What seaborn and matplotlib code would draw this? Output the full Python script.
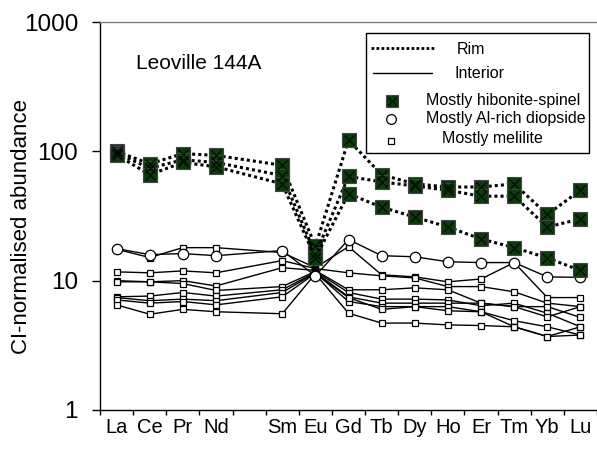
import numpy as np
import pandas as pd
import seaborn as sns
import matplotlib.pyplot as plt
from matplotlib.lines import Line2D
from matplotlib.patches import Rectangle
from matplotlib.ticker import FixedLocator, NullFormatter, FixedFormatter, NullLocator

sns.set_style('ticks')
plt.rcParams['font.family'] = ['Liberation Sans', 'DejaVu Sans']
plt.rcParams['text.color'] = 'black'
plt.rcParams['axes.labelcolor'] = 'black'
plt.rcParams['xtick.color'] = 'black'
plt.rcParams['ytick.color'] = 'black'

# axis slots (Pm has no data, left blank)
axis_labels = ['La', 'Ce', 'Pr', 'Nd', '', 'Sm', 'Eu', 'Gd', 'Tb', 'Dy', 'Ho', 'Er', 'Tm', 'Yb', 'Lu']
elements = ['La', 'Ce', 'Pr', 'Nd', 'Sm', 'Eu', 'Gd', 'Tb', 'Dy', 'Ho', 'Er', 'Tm', 'Yb', 'Lu']

# rim, mostly hibonite-spinel
rim_a = [100, 80, 96, 93, 78, 18.4, 122, 66, 56, 53, 53, 56, 32.5, 50]
rim_b = [97, 74, 86, 82, 65, 16, 64, 58, 54, 50, 45, 45, 26, 30]
rim_c = [94, 66, 82, 76, 56, 15, 47, 37, 31, 26, 21, 18, 15, 12]

# interior, mostly Al-rich diopside
diop = [17.7, 15.9, 16.2, 15.6, 17.1, 10.9, 20.8, 15.6, 15.3, 14.0, 13.8, 13.8, 10.7, 10.6]

# interior, mostly melilite
mel_1 = [17.5, 15.1, 18.0, 18.0, 16.5, 12.6, 18.3, 11.1, 10.7, 9.8, 10.3, 13.8, 7.4, 7.4]
mel_2 = [11.7, 11.5, 11.9, 11.5, 14.3, 12.4, 11.5, 10.9, 10.5, 9.0, 9.0, 8.2, 6.7, 6.3]
mel_3 = [10.0, 9.8, 10.0, 9.1, 12.6, 12.0, 8.5, 8.5, 8.8, 8.5, 6.7, 6.3, 6.3, 5.2]
mel_4 = [9.8, 9.8, 9.5, 8.4, 9.0, 11.8, 8.1, 7.2, 7.2, 7.1, 6.4, 6.7, 5.6, 4.4]
mel_5 = [7.5, 7.6, 8.1, 7.6, 8.5, 11.6, 7.5, 6.7, 6.7, 6.7, 6.7, 6.3, 5.25, 6.3]
mel_6 = [7.4, 7.0, 7.2, 7.0, 8.1, 11.5, 6.9, 6.3, 6.3, 6.3, 5.75, 4.9, 4.4, 3.8]
mel_7 = [7.1, 6.7, 6.9, 6.5, 7.5, 11.4, 7.4, 6.0, 6.3, 5.85, 5.75, 4.4, 3.7, 4.4]
mel_8 = [6.5, 5.5, 6.0, 5.75, 5.55, 11.3, 5.6, 4.7, 4.7, 4.55, 4.5, 4.4, 3.7, 3.8]

rims = [rim_a, rim_b, rim_c]
melilites = [mel_1, mel_2, mel_3, mel_4, mel_5, mel_6, mel_7, mel_8]

pos = [axis_labels.index(e) for e in elements]


def frame(values):
    return pd.DataFrame({'pos': pos, 'value': values})


green = '#0b3a0b'

fig = plt.figure(figsize=(5.97, 4.49), dpi=100)
ax = fig.add_axes([100 / 597, 39 / 449, 497 / 597, 388 / 449])
ax.set_yscale('log')

# interior lines
for s in melilites:
    sns.lineplot(data=frame(s), x='pos', y='value', ax=ax, color='black', lw=1,
                 marker='s', markersize=4.8, mfc='white', mec='black', mew=0.9,
                 estimator=None, zorder=2)
sns.lineplot(data=frame(diop), x='pos', y='value', ax=ax, color='black', lw=1,
             marker='o', markersize=7.5, mfc='white', mec='black', mew=0.9,
             estimator=None, zorder=3)

# rim lines
for s in rims:
    sns.lineplot(data=frame(s), x='pos', y='value', ax=ax, color='black', lw=2.2,
                 linestyle=(0, (1, 1)), marker='s', markersize=9.5, mfc=green,
                 mec='#444444', mew=0.8, estimator=None, zorder=4)
    ax.plot(pos, s, ls='none', marker='x', markersize=7, mec='black', mew=0.7, zorder=5)

ax.set_xlim(-0.5, 14.5)
ax.set_ylim(1, 1000)

ax.yaxis.set_major_locator(FixedLocator([1, 10, 100, 1000]))
ax.yaxis.set_major_formatter(FixedFormatter(['1', '10', '100', '1000']))
ax.yaxis.set_minor_locator(NullLocator())
ax.tick_params(axis='y', which='major', labelsize=17.5, length=5.8, width=1, pad=10,
               direction='out', colors='black')

ax.xaxis.set_major_locator(FixedLocator(np.arange(-0.5, 15, 1)))
ax.xaxis.set_major_formatter(NullFormatter())
ax.xaxis.set_minor_locator(FixedLocator(np.arange(0, 15, 1)))
ax.xaxis.set_minor_formatter(FixedFormatter(axis_labels))
ax.tick_params(axis='x', which='major', length=3.6, width=1, direction='out', colors='black')
ax.tick_params(axis='x', which='minor', length=0, labelsize=14.5, pad=6, colors='black')

ax.set_xlabel('')
ax.set_ylabel('CI-normalised abundance', fontsize=16, color='black')
ax.yaxis.set_label_coords(-0.137, 0.474)

for side in ['left', 'bottom']:
    ax.spines[side].set_color('black')
    ax.spines[side].set_linewidth(1)
ax.spines['top'].set_color('#808080')
ax.spines['top'].set_linewidth(1)
ax.spines['right'].set_visible(False)

ax.text(0.072, 0.892, 'Leoville 144A', transform=ax.transAxes, fontsize=15,
        ha='left', va='center', color='black')


# hand-built legend box, placed like the original
def fx(px):
    return (px - 100) / 497


def fy(py):
    return (410 - py) / 388


box = Rectangle((fx(366), fy(153)), fx(589) - fx(366), fy(33) - fy(153),
                transform=ax.transAxes, facecolor='white', edgecolor='black',
                lw=1, zorder=10, clip_on=False)
ax.add_patch(box)
ax.add_line(Line2D([fx(371), fx(435)], [fy(48), fy(48)], transform=ax.transAxes,
                   color='black', lw=2, linestyle=(0, (1, 0.8)), zorder=11))
ax.add_line(Line2D([fx(373), fx(432)], [fy(73), fy(73)], transform=ax.transAxes,
                   color='black', lw=1, zorder=11))
ax.plot([fx(392)], [fy(101)], transform=ax.transAxes, marker='s', markersize=8,
        mfc=green, mec='#444444', mew=0.8, ls='none', zorder=11, clip_on=False)
ax.plot([fx(392)], [fy(101)], transform=ax.transAxes, marker='x', markersize=6,
        mec='black', mew=0.6, ls='none', zorder=12, clip_on=False)
ax.plot([fx(391)], [fy(119)], transform=ax.transAxes, marker='o', markersize=7,
        mfc='white', mec='black', mew=0.9, ls='none', zorder=11, clip_on=False)
ax.plot([fx(391)], [fy(141)], transform=ax.transAxes, marker='s', markersize=5,
        mfc='white', mec='black', mew=0.9, ls='none', zorder=11, clip_on=False)

legend_texts = [('Rim', 471, 49), ('Interior', 479, 73),
                ('Mostly hibonite-spinel', 503, 101),
                ('Mostly Al-rich diopside', 506, 119),
                ('Mostly melilite', 492, 139)]
for t, px, py in legend_texts:
    ax.text(fx(px), fy(py), t, transform=ax.transAxes, fontsize=11.5,
            ha='center', va='center', zorder=12, color='black')

fig.savefig('out.png', dpi=100)
